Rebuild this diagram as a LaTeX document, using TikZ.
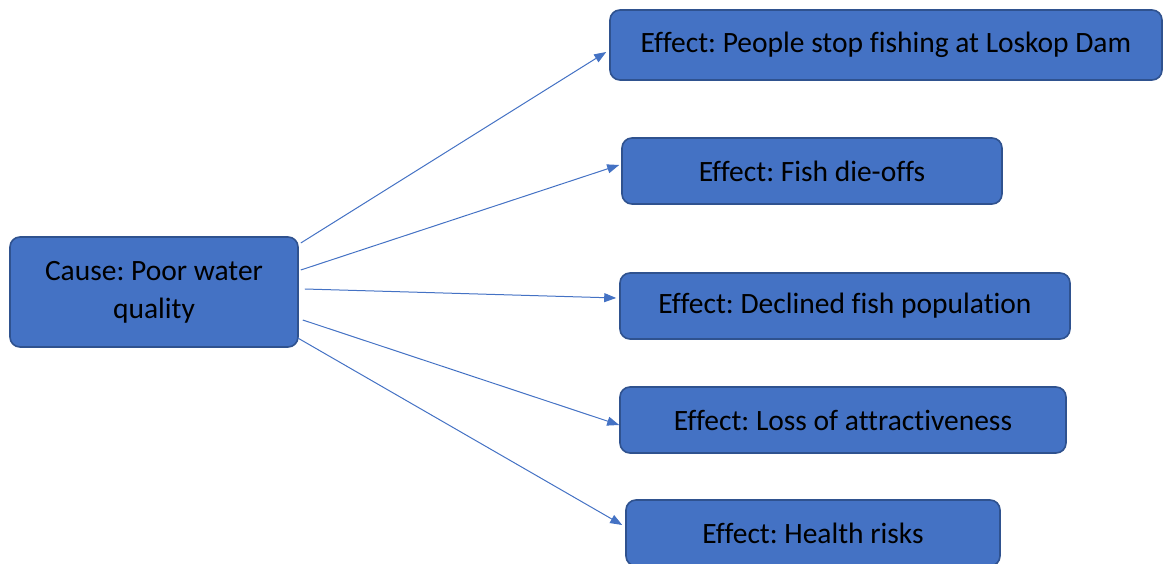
\documentclass[tikz,border=0pt]{standalone}
\usepackage{fontspec}
\setmainfont{Carlito}[Ligatures=NoCommon]
\frenchspacing
\usetikzlibrary{arrows.meta,calc}
\definecolor{boxfill}{HTML}{4472C4}
\definecolor{boxdraw}{HTML}{2F528F}
\tikzset{
  box/.style={draw=boxdraw, line width=1.6pt, fill=boxfill, rounded corners=10pt,
    text=black, font=\fontsize{29.5}{38}\selectfont, align=center, inner sep=0pt},
  link/.style={draw=boxfill, line width=1pt, -{Triangle[length=12pt,width=9pt]}}
}
\begin{document}
\frenchspacing
\begin{tikzpicture}[x=1pt,y=-1pt]
\useasboundingbox (0,0) rectangle (1163,564);
\clip (0,0) rectangle (1163,564);
\node[box, minimum width=288pt, minimum height=110pt] (cause) at (154,292) {Cause: Poor water\\quality};
\node[box, minimum width=552pt, minimum height=70pt] (e1) at (886,45) {Effect: People stop fishing at Loskop Dam};
\node[box, minimum width=380pt, minimum height=66pt] (e2) at (812,171) {Effect: Fish die-offs};
\node[box, minimum width=450pt, minimum height=66pt] (e3) at (845,306) {Effect: Declined fish population};
\node[box, minimum width=446pt, minimum height=66pt] (e4) at (843,420) {Effect: Loss of attractiveness};
\node[box, minimum width=374pt, minimum height=66pt] (e5) at (813,533) {Effect: Health risks};
\draw[link] ($(cause.east)+(2,-49)$) -- ($(e1.west)+(-3,7)$);
\draw[link] ($(cause.east)+(2,-22)$) -- ($(e2.west)+(-2,-6)$);
\draw[link] ($(cause.east)+(6,-3)$) -- ($(e3.west)+(-3,-8)$);
\draw[link] ($(cause.east)+(4,28)$) -- ($(e4.west)+(0,5)$);
\draw[link] ($(cause.east)+(-1,46)$) -- ($(e5.west)+(-3,-8)$);
\end{tikzpicture}
\end{document}
